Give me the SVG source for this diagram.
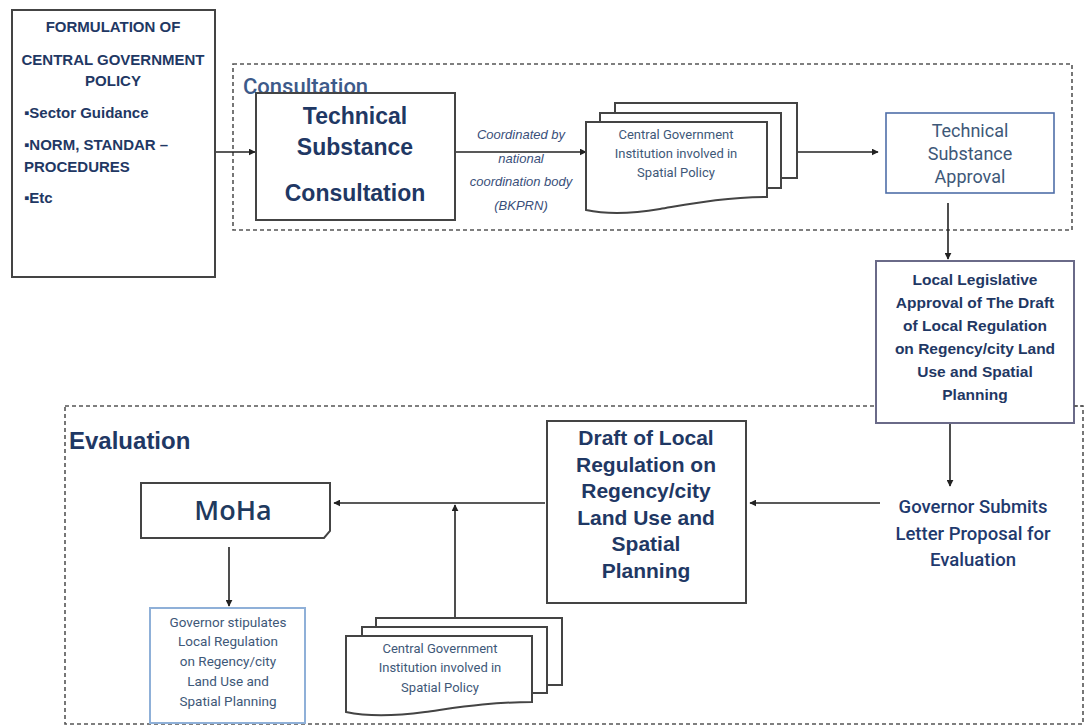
<svg xmlns="http://www.w3.org/2000/svg" width="1085" height="726" viewBox="0 0 1085 726">
<style>
.frame{fill:none;stroke:#555;stroke-width:1.6;stroke-dasharray:4 3}
.box{fill:#fff;stroke:#444;stroke-width:2}
.doc{fill:#fff;stroke:#444;stroke-width:2}
.conn{fill:none;stroke:#222;stroke-width:1.6}
.narrow{font-family:"Liberation Sans Narrow","Liberation Sans",Arial,sans-serif;font-weight:bold;fill:#1f3864}
.bold{font-family:"Liberation Sans",Arial,sans-serif;font-weight:bold;fill:#1f3864}
.plain{font-family:Roboto,"Liberation Sans",Arial,sans-serif;fill:#3e5878}
.ital{font-family:"Liberation Sans",Arial,sans-serif;font-style:italic;fill:#3a4f7a;font-size:13px}
</style>
<defs>
<marker id="ah" viewBox="0 0 10 10" refX="9" refY="5" markerWidth="7" markerHeight="7" orient="auto" markerUnits="userSpaceOnUse">
<path d="M0,0 L10,5 L0,10 Z" fill="#222"/>
</marker>
</defs>

<g id="consultation-frame">
<rect class="frame" x="233" y="64" width="839" height="166"/>
<text x="243" y="94" font-family="Roboto,'Liberation Sans',Arial,sans-serif" font-size="22" font-weight="500" fill="#3d5a8a">Consultation</text>
</g>

<g id="evaluation-frame">
<rect class="frame" x="65" y="406" width="1018" height="318"/>
<text x="69" y="449" class="bold" font-size="24" fill="#1f3a6e">Evaluation</text>
</g>

<g id="connectors">
<line class="conn" x1="215" y1="152" x2="255" y2="152" marker-end="url(#ah)"/>
<line class="conn" x1="456" y1="152" x2="586" y2="152" marker-end="url(#ah)"/>
<line class="conn" x1="798" y1="152" x2="878" y2="152" marker-end="url(#ah)"/>
<line class="conn" x1="948" y1="203" x2="948" y2="259" marker-end="url(#ah)"/>
<line class="conn" x1="950" y1="424" x2="950" y2="486" marker-end="url(#ah)"/>
<line class="conn" x1="880" y1="503" x2="750" y2="503" marker-end="url(#ah)"/>
<line class="conn" x1="545" y1="503" x2="334" y2="503" marker-end="url(#ah)"/>
<line class="conn" x1="455" y1="617" x2="455" y2="505" marker-end="url(#ah)"/>
<line class="conn" x1="229" y1="547" x2="229" y2="606" marker-end="url(#ah)"/>
<text class="ital" text-anchor="middle"><tspan x="521" y="139">Coordinated by</tspan><tspan x="521" y="163">national</tspan><tspan x="521" y="186">coordination body</tspan><tspan x="521" y="210">(BKPRN)</tspan></text>
</g>

<g id="formulation">
<rect class="box" x="12" y="10" width="203" height="267"/>
<text class="narrow" font-size="15" text-anchor="middle"><tspan x="113" y="32">FORMULATION OF</tspan><tspan x="113" y="65">CENTRAL GOVERNMENT</tspan><tspan x="113" y="86">POLICY</tspan></text>
<text class="narrow" font-size="15"><tspan x="24" y="118">▪Sector Guidance</tspan><tspan x="24" y="150">▪NORM, STANDAR –</tspan><tspan x="24" y="172">PROCEDURES</tspan><tspan x="24" y="203">▪Etc</tspan></text>
</g>

<g id="tech-consultation">
<rect class="box" x="256" y="93" width="199" height="127"/>
<text class="bold" font-size="23" text-anchor="middle"><tspan x="355" y="124">Technical</tspan><tspan x="355" y="155">Substance</tspan><tspan x="355" y="201">Consultation</tspan></text>
</g>

<g id="central-gov-top">
<path class="doc" d="M615,113 V103 H797 V178 H781"/>
<path class="doc" d="M600,122 V113 H781 V188 H767"/>
<path class="doc" d="M586,122 H767 V197 C725,197 690,204 660,209 C630,214 605,214 586,210 Z"/>
<text class="plain" font-size="13" text-anchor="middle"><tspan x="676" y="139">Central Government</tspan><tspan x="676" y="158">Institution  involved in</tspan><tspan x="676" y="177">Spatial Policy</tspan></text>
</g>

<g id="tech-approval">
<rect x="886" y="113" width="168" height="80" fill="#fff" stroke="#4f6ea8" stroke-width="1.6"/>
<text class="plain" font-size="18" text-anchor="middle" fill="#4a6080"><tspan x="970" y="137">Technical</tspan><tspan x="970" y="160">Substance</tspan><tspan x="970" y="183">Approval</tspan></text>
</g>

<g id="local-legislative">
<rect x="876" y="261" width="198" height="162" fill="#fff" stroke="#6a6a88" stroke-width="2"/>
<line x1="1074" y1="406" x2="1083" y2="406" class="frame"/>
<text class="narrow" font-size="15.5" text-anchor="middle" fill="#1f3a80"><tspan x="975" y="285">Local Legislative</tspan><tspan x="975" y="308">Approval of The Draft</tspan><tspan x="975" y="331">of Local Regulation</tspan><tspan x="975" y="354">on Regency/city Land</tspan><tspan x="975" y="377">Use and Spatial</tspan><tspan x="975" y="400">Planning</tspan></text>
</g>

<g id="governor-submits">
<text font-family="Roboto,'Liberation Sans',Arial,sans-serif" font-size="18.5" font-weight="500" text-anchor="middle" fill="#1f3a6e"><tspan x="973" y="513">Governor Submits</tspan><tspan x="973" y="540">Letter Proposal for</tspan><tspan x="973" y="566">Evaluation</tspan></text>
</g>

<g id="draft">
<rect class="box" x="547" y="421" width="199" height="182"/>
<text class="bold" font-size="21" text-anchor="middle"><tspan x="646" y="445">Draft of Local</tspan><tspan x="646" y="472">Regulation on</tspan><tspan x="646" y="498">Regency/city</tspan><tspan x="646" y="525">Land Use and</tspan><tspan x="646" y="551">Spatial</tspan><tspan x="646" y="578">Planning</tspan></text>
</g>

<g id="moha">
<path class="box" d="M141,483 H330 V531 L324,538 H141 Z"/>
<text x="233" y="520" font-family="'Open Sans','Liberation Sans',Arial,sans-serif" font-size="27" font-weight="600" text-anchor="middle" fill="#1f3a5e">MoHa</text>
</g>

<g id="governor-stipulates">
<rect x="150" y="608" width="155" height="115" fill="#fff" stroke="#8fb0d8" stroke-width="2"/>
<text class="plain" font-size="13.5" text-anchor="middle"><tspan x="228" y="627">Governor stipulates</tspan><tspan x="228" y="646">Local Regulation</tspan><tspan x="228" y="666">on Regency/city</tspan><tspan x="228" y="686">Land Use and</tspan><tspan x="228" y="706">Spatial Planning</tspan></text>
</g>

<g id="central-gov-bottom">
<path class="doc" d="M376,627 V618 H562 V685 H547"/>
<path class="doc" d="M362,636 V627 H547 V693 H532"/>
<path class="doc" d="M346,636 H532 V702 C490,702 455,708 425,712 C395,716 365,716 346,712 Z"/>
<text class="plain" font-size="13" text-anchor="middle"><tspan x="440" y="653">Central Government</tspan><tspan x="440" y="672">Institution  involved in</tspan><tspan x="440" y="692">Spatial Policy</tspan></text>
</g>
</svg>
